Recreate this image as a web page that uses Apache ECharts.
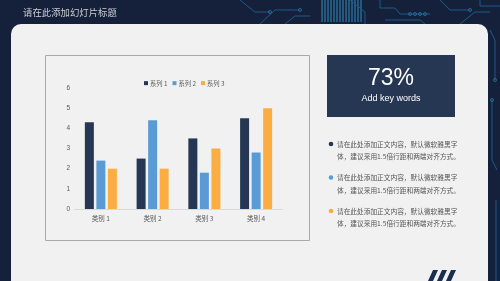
<!DOCTYPE html>
<html>
<head>
<meta charset="utf-8">
<script src="https://cdn.jsdelivr.net/npm/echarts@6/dist/echarts.min.js"></script>
<style>
  html, body { margin: 0; padding: 0; background: #15213a; }
  #main { width: 500px; height: 281px; }
</style>
</head>
<body>
<div id="main"></div>
<script>
// chart data
var categories = ['类别 1', '类别 2', '类别 3', '类别 4'];
var seriesNames = ['系列 1', '系列 2', '系列 3'];
var series1 = [4.3, 2.5, 3.5, 4.5];
var series2 = [2.4, 4.4, 1.8, 2.8];
var series3 = [2, 2, 3, 5];
var colors = ['#263754', '#5b9bd5', '#fbad42'];

var title = '请在此添加幻灯片标题';
var bigNumber = '73%';
var bigLabel = 'Add key words';
var bulletLines = ['请在此处添加正文内容，默认微软雅黑字', '体，建议采用1.5倍行距和两端对齐方式。'];

var cjk = '"Noto Sans CJK SC", "Noto Sans", sans-serif';

// circuit decoration on the dark top band
var circuit = [];
function wire(pts, c) {
  circuit.push({ type: 'polyline', silent: true, shape: { points: pts },
    style: { stroke: c || '#1f5a8a', lineWidth: 1, fill: null } });
}
function pad(x, y, c) {
  circuit.push({ type: 'circle', silent: true, shape: { cx: x, cy: y, r: 1.5 },
    style: { stroke: c || '#2a78a8', lineWidth: 0.8, fill: null } });
}
for (var i = 0; i < 14; i++) {
  wire([[322 + i * 3, 0], [322 + i * 3, 22]], '#2f8fc0');
}
wire([[260, 24], [275, 10], [300, 10]]);
pad(300, 10);
wire([[285, 24], [295, 16], [310, 16]]);
wire([[380, 0], [380, 8], [395, 8], [400, 14], [430, 14]]);
pad(410, 14); pad(415, 14); pad(420, 14); pad(425, 14);
wire([[385, 20], [420, 20], [425, 24]]);
wire([[440, 0], [450, 10], [470, 10]]);
pad(470, 10);
wire([[460, 24], [475, 12], [490, 12]]);
wire([[480, 0], [480, 6], [500, 6]]);
wire([[350, 0], [365, 12], [365, 24]]);
wire([[240, 0], [255, 12], [270, 12]]);
pad(270, 12);
wire([[490, 30], [495, 40], [495, 80]]);
wire([[492, 100], [492, 160], [497, 170]]);
wire([[496, 200], [496, 281]]);
pad(495, 80); pad(492, 100);

var stripes = [];
for (var k = 0; k < 3; k++) {
  stripes.push({ type: 'polygon', silent: true,
    shape: { points: [[428 + k * 9, 281], [433 + k * 9, 281], [438 + k * 9, 270], [433 + k * 9, 270]] },
    style: { fill: '#1c2e4f' } });
}

var bullets = [];
var bulletY = [144, 177.5, 211];
for (var b = 0; b < 3; b++) {
  bullets.push({ type: 'circle', silent: true, shape: { cx: 331, cy: bulletY[b], r: 2.3 },
    style: { fill: colors[b] } });
  bullets.push({ type: 'text', silent: true, x: 337, y: bulletY[b] - 6,
    style: { text: bulletLines.join('\n'), font: '6.7px ' + cjk, fill: '#555555',
      lineHeight: 12.5, textVerticalAlign: 'top' } });
}

var chart = echarts.init(document.getElementById('main'));
chart.setOption({
  backgroundColor: '#15213a',
  animation: false,
  color: colors,
  graphic: [].concat(circuit, [
    { type: 'rect', silent: true, shape: { x: 11, y: 24, width: 477, height: 280, r: 10 },
      style: { fill: '#f1f1f1' } },
    { type: 'text', silent: true, left: 23, top: 8,
      style: { text: title, font: '9.4px ' + cjk, fill: '#c9ccd3' } },
    { type: 'rect', silent: true, shape: { x: 45.5, y: 55.5, width: 264, height: 185 },
      style: { fill: '#f1f1f1', stroke: '#a9a9ad', lineWidth: 1 } },
    { type: 'rect', silent: true, shape: { x: 327, y: 55, width: 128, height: 62 },
      style: { fill: '#263754' } },
    { type: 'text', silent: true, x: 391, y: 79,
      style: { text: bigNumber, font: '23px "Liberation Sans", Arial, sans-serif', fill: '#ffffff',
        textAlign: 'center', textVerticalAlign: 'middle' } },
    { type: 'text', silent: true, x: 391, y: 99,
      style: { text: bigLabel, font: '9px "Liberation Sans", Arial, sans-serif', fill: '#ffffff',
        textAlign: 'center', textVerticalAlign: 'middle' } }
  ], bullets, stripes),
  legend: {
    data: seriesNames,
    top: 75,
    left: 139,
    itemWidth: 4,
    itemHeight: 4,
    itemGap: 5,
    icon: 'rect',
    textStyle: { fontSize: 6.3, color: '#595959', fontFamily: cjk, padding: [0, 0, 0, -3] }
  },
  grid: { left: 75, right: 218, top: 88, bottom: 72 },
  xAxis: {
    type: 'category',
    data: categories,
    axisTick: { show: false },
    axisLine: { lineStyle: { color: '#d9d9d9' } },
    axisLabel: { fontSize: 6.5, color: '#595959', fontFamily: cjk, margin: 6 }
  },
  yAxis: {
    type: 'value',
    min: 0,
    max: 6,
    interval: 1,
    axisLine: { show: false },
    axisTick: { show: false },
    splitLine: { show: false },
    axisLabel: { fontSize: 6.5, color: '#595959', margin: 5 }
  },
  series: [
    { name: seriesNames[0], type: 'bar', data: series1, barWidth: 9, barGap: '28%' },
    { name: seriesNames[1], type: 'bar', data: series2, barWidth: 9, barGap: '28%' },
    { name: seriesNames[2], type: 'bar', data: series3, barWidth: 9, barGap: '28%' }
  ]
});
</script>
</body>
</html>
